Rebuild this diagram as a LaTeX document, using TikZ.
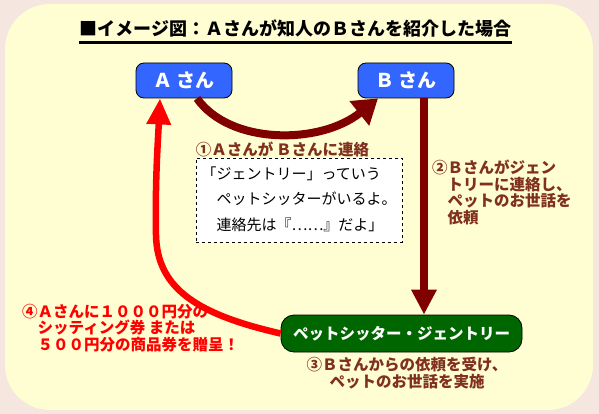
\documentclass[tikz,border=0pt]{standalone}
\usepackage{fontspec}
\setmainfont{Noto Sans CJK JP}
\usepackage{tikz}
\usetikzlibrary{arrows.meta,positioning,calc}
\usepackage{xcolor}
\definecolor{bgpink}{HTML}{F5E6E0}
\definecolor{panelyellow}{HTML}{FFFDD2}
\definecolor{personblue}{HTML}{3366FF}
\definecolor{maroon}{HTML}{800000}
\definecolor{brownlabel}{HTML}{7F3020}
\definecolor{sitterred}{HTML}{FF0000}
\definecolor{sittergreen}{HTML}{006600}

\begin{document}
\begin{tikzpicture}[x=1pt, y=-1pt, >=Stealth,
    person/.style={draw=black, fill=personblue, rounded corners=8pt, line width=0.8pt,
      minimum width=96pt, minimum height=35pt, text=white,
      font=\bfseries\fontsize{19}{21}\selectfont},
    gentrybox/.style={draw=black, fill=sittergreen, rounded corners=13pt, line width=0.8pt,
      minimum width=241pt, minimum height=37pt, text=white,
      font=\bfseries\fontsize{15.5}{17}\selectfont},
    steplabel/.style={font=\bfseries\fontsize{15.5}{16.5}\selectfont, text=brownlabel,
      align=left, inner sep=0pt},
    darkarrow/.style={draw=maroon, line width=8pt,
      -{Triangle[length=24pt, width=30pt]}},
    redarrow/.style={draw=sitterred, line width=6.5pt,
      -{Triangle[length=26pt, width=23pt]}}]
  % background and panel
  \fill[bgpink] (0,0) rectangle (599,414);
  \fill[panelyellow, rounded corners=45pt] (5,4) rectangle (593,410);

  % title
  \node[inner sep=0pt, minimum width=431pt, font=\bfseries\fontsize{18}{20}\selectfont]
    (title) at (295.5,29) {■イメージ図：Ａさんが知人のＢさんを紹介した場合};
  \draw[line width=3pt] ([yshift=-5pt]title.south west) -- ([yshift=-5pt]title.south east);

  % people and sitter
  \node[person] (A) at (184,80.5) {Ａ\,さん};
  \node[person] (B) at (406,80.5) {Ｂ\,さん};
  \node[gentrybox] (gentry) at (401.5,333.5) {ペットシッター・ジェントリー};

  % step 1
  \draw[darkarrow] ([xshift=13pt]A.south) .. controls (230,145) and (320,145) .. ([xshift=-28pt]B.south);
  \node[steplabel] (s1) at (282.5,149) {①Ａさんが\,Ｂさんに連絡};
  \node[draw=black, dashed, fill=white, minimum width=206pt, minimum height=84pt,
    inner xsep=3pt, anchor=north west, font=\fontsize{15}{24}\selectfont]
    (msg) at (196,158) {\begin{tabular}{@{}l@{}}
      「ジェントリー」っていう\\[2pt]
      \phantom{「}ペットシッターがいるよ。\\[2pt]
      \phantom{「}連絡先は『……』だよ」
    \end{tabular}};

  % step 2
  \draw[draw=maroon, line width=7.5pt, -{Triangle[length=25pt, width=24pt]}]
    ([xshift=18pt]B.south) -- ([xshift=18pt]B.south |- gentry.north);
  \node[steplabel, anchor=north west] (s2) at (432,160)
    {②Ｂさんがジェン\\\phantom{②}トリーに連絡し、\\\phantom{②}ペットのお世話を\\\phantom{②}依頼};

  % step 3
  \node[steplabel, align=center, anchor=north] (s3) at (407,357)
    {③Ｂさんからの依頼を受け、\\ペットのお世話を実施};

  % step 4
  \draw[redarrow] (gentry.west) .. controls (200,315) and (157,290) .. (156,235)
    .. controls (155,180) and (158,140) .. ([xshift=-24pt]A.south);
  \node[steplabel, text=sitterred, anchor=north west] (s4) at (22,304)
    {④Ａさんに１０００円分の\\\phantom{④}シッティング券 または\\\phantom{④}５００円分の商品券を贈呈！};
\end{tikzpicture}
\end{document}
